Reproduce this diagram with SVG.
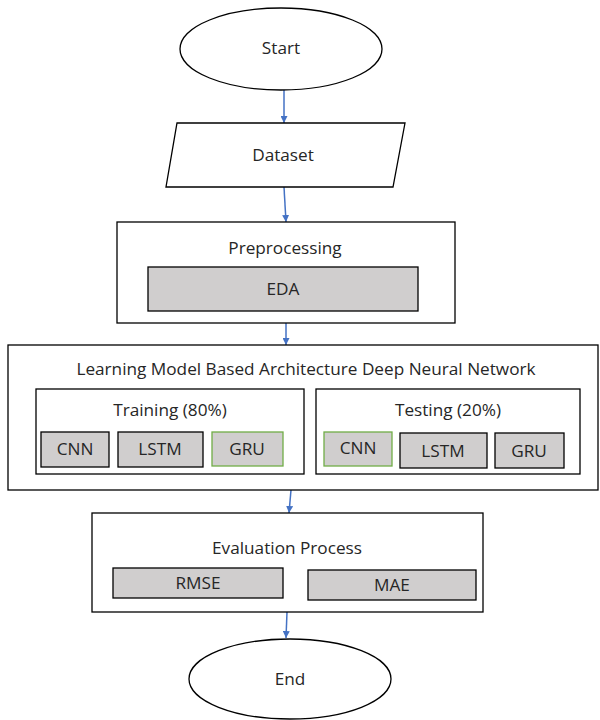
<svg xmlns="http://www.w3.org/2000/svg" width="600" height="720" viewBox="0 0 600 720">
<defs>
<style>
.t{font-family:"Open Sans","Liberation Sans",Arial,sans-serif;font-size:17.2px;fill:#262626;text-anchor:middle;dominant-baseline:central}
.box{fill:#fff;stroke:#000;stroke-width:1.3}
.g{fill:#d0cece;stroke:#000;stroke-width:1.3}
.gg{fill:#d0cece;stroke:#70ad47;stroke-width:1.3}
.c{stroke:#4472c4;stroke-width:1.5;fill:none;marker-end:url(#ah)}
</style>
<marker id="ah" viewBox="0 0 10 10" refX="10" refY="5" markerWidth="7" markerHeight="7" markerUnits="userSpaceOnUse" orient="auto">
<path d="M0,0 L10,5 L0,10 z" fill="#4472c4"/>
</marker>
</defs>
<rect width="600" height="720" fill="#fff"/>
<g id="connectors">
<line class="c" x1="284" y1="90" x2="284" y2="123"/>
<line class="c" x1="284" y1="187" x2="286" y2="222"/>
<line class="c" x1="286" y1="323" x2="286" y2="345"/>
<line class="c" x1="291" y1="490" x2="289" y2="513"/>
<line class="c" x1="287" y1="612" x2="286" y2="638"/>
</g>
<g id="start">
<ellipse class="box" cx="281" cy="49" rx="101" ry="41"/>
<text class="t" x="281" y="47">Start</text>
</g>
<g id="dataset">
<polygon class="box" points="177,123 405,123 393,187 166,187"/>
<text class="t" x="283" y="154">Dataset</text>
</g>
<g id="preprocessing">
<rect class="box" x="117" y="222" width="338" height="101"/>
<text class="t" x="285" y="247">Preprocessing</text>
</g>
<g id="eda">
<rect class="g" x="148" y="267" width="270" height="44"/>
<text class="t" x="283" y="288">EDA</text>
</g>
<g id="learning">
<rect class="box" x="8" y="345" width="590" height="145"/>
<text class="t" x="306" y="368">Learning Model Based Architecture Deep Neural Network</text>
</g>
<g id="training">
<rect class="box" x="36" y="389" width="268" height="85"/>
<text class="t" x="170" y="409">Training (80%)</text>
</g>
<g id="train-cnn">
<rect class="g" x="41" y="432" width="68" height="35"/>
<text class="t" x="75" y="448">CNN</text>
</g>
<g id="train-lstm">
<rect class="g" x="118" y="432" width="85" height="35"/>
<text class="t" x="160" y="448">LSTM</text>
</g>
<g id="train-gru">
<rect class="gg" x="212" y="432" width="71" height="34"/>
<text class="t" x="247" y="448">GRU</text>
</g>
<g id="testing">
<rect class="box" x="316" y="389" width="264" height="85"/>
<text class="t" x="448" y="409">Testing (20%)</text>
</g>
<g id="test-cnn">
<rect class="gg" x="324" y="432" width="68" height="34"/>
<text class="t" x="358" y="447">CNN</text>
</g>
<g id="test-lstm">
<rect class="g" x="400" y="433" width="87" height="35"/>
<text class="t" x="443" y="450">LSTM</text>
</g>
<g id="test-gru">
<rect class="g" x="495" y="433" width="69" height="35"/>
<text class="t" x="529" y="450">GRU</text>
</g>
<g id="evaluation">
<rect class="box" x="92" y="513" width="391" height="99"/>
<text class="t" x="287" y="547">Evaluation Process</text>
</g>
<g id="rmse">
<rect class="g" x="113" y="568" width="170" height="30"/>
<text class="t" x="198" y="582">RMSE</text>
</g>
<g id="mae">
<rect class="g" x="308" y="570" width="168" height="30"/>
<text class="t" x="392" y="584">MAE</text>
</g>
<g id="end">
<ellipse class="box" cx="290" cy="679" rx="101" ry="40"/>
<text class="t" x="290" y="678">End</text>
</g>
</svg>
